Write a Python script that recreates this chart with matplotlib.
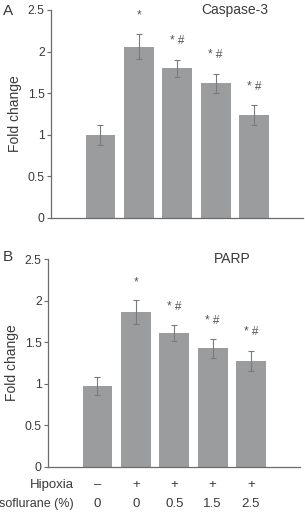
import matplotlib
matplotlib.use('Agg')
import matplotlib.pyplot as plt
import matplotlib.transforms as mtransforms

plt.rcParams['font.family'] = ['Liberation Sans', 'DejaVu Sans']

hypoxia = ['–', '+', '+', '+', '+']
sevo = ['0', '0', '0.5', '1.5', '2.5']

casp = [1.00, 2.06, 1.80, 1.62, 1.24]
casp_err = [0.12, 0.15, 0.105, 0.115, 0.12]
casp_marks = ['', '*', '*#', '*#', '*#']

parp = [0.97, 1.86, 1.615, 1.425, 1.275]
parp_err = [0.11, 0.145, 0.095, 0.115, 0.125]
parp_marks = ['', '*', '*#', '*#', '*#']

W, H = 305, 512
fig = plt.figure(figsize=(W/100, H/100), dpi=100)

barcol = '#9b9c9e'
axcol = '#6b6b6b'
txtcol = '#3a3a3a'


def panel(rect, vals, errs, marks, title, letter, letter_y):
    ax = fig.add_axes(rect)
    x = list(range(len(vals)))
    ax.bar(x, vals, width=0.78, color=barcol, zorder=2)
    ax.errorbar(x, vals, yerr=errs, fmt='none', ecolor='#7a7a7a',
                elinewidth=0.8, capsize=2.2, capthick=0.8, zorder=3)
    for xi, v, e, m in zip(x, vals, errs, marks):
        if m:
            ax.text(xi, v + e + 0.22, m.replace('*#', '* #'), ha='center',
                    va='center', fontsize=8.5, color='#555555')
    ax.set_xlim(-1.29, 5.28)
    ax.set_ylim(0, 2.5)
    ax.set_yticks([0, 0.5, 1, 1.5, 2, 2.5])
    ax.set_yticklabels(['0', '0.5', '1', '1.5', '2', '2.5'])
    ax.set_xticks([])
    for s in ['top', 'right']:
        ax.spines[s].set_visible(False)
    for s in ['left', 'bottom']:
        ax.spines[s].set_color(axcol)
        ax.spines[s].set_linewidth(0.9)
    ax.tick_params(axis='y', direction='out', length=3, width=0.8,
                   color=axcol, labelsize=8.8, labelcolor=txtcol, pad=1.5)
    ax.set_ylabel('Fold change', fontsize=10, color=txtcol, labelpad=4)
    ax.text(0.73, 1.0, title, transform=ax.transAxes, ha='center',
            va='center', fontsize=10, color=txtcol)
    fig.text(3/W, letter_y, letter, ha='left', va='center',
             fontsize=11, color=txtcol)
    return ax


axA = panel([51/W, 1 - 218/H, 252/W, 208/H], casp, casp_err, casp_marks,
            'Caspase-3', 'A', 1 - 11/H)
axB = panel([48/W, 1 - 466.7/H, 252/W, 207.4/H], parp, parp_err, parp_marks,
            'PARP', 'B', 1 - 257/H)

trans = mtransforms.blended_transform_factory(axB.transData, axB.transAxes)
labx = (74 - 48) / 252
row1 = (466.7 - 485) / 207.4
row2 = (466.7 - 504) / 207.4
axB.text(labx, row1, 'Hipoxia', transform=axB.transAxes, ha='right',
         va='center', fontsize=9.5, color=txtcol)
axB.text(labx, row2, 'soflurane (%)', transform=axB.transAxes, ha='right',
         va='center', fontsize=9, color=txtcol)
for i, (h, s) in enumerate(zip(hypoxia, sevo)):
    axB.text(i, row1, h, transform=trans, ha='center', va='center',
             fontsize=9.5, color=txtcol)
    axB.text(i, row2, s, transform=trans, ha='center', va='center',
             fontsize=9.5, color=txtcol)

fig.savefig('out.png', dpi=100)
